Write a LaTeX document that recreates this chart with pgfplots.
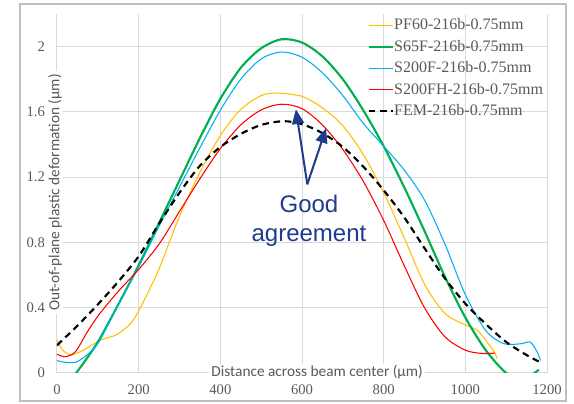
\documentclass[border=0pt]{standalone}
\usepackage{pgfplots}
\pgfplotsset{compat=1.18}
\usepackage{fontspec}
\setmainfont{Liberation Serif}
\newfontfamily\labelfont{Carlito}
\newfontfamily\annfont{Liberation Sans}
\usetikzlibrary{arrows.meta}
\definecolor{cYel}{HTML}{FFC000}
\definecolor{cGrn}{HTML}{00B050}
\definecolor{cBlu}{HTML}{00B0F0}
\definecolor{cRed}{HTML}{FF0000}
\definecolor{cTxt}{HTML}{595959}
\definecolor{cBorder}{HTML}{BFBFBF}
\definecolor{cAnn}{HTML}{1F3C8C}
\begin{document}
\begin{tikzpicture}
\useasboundingbox (-42.75pt,-22.5pt) rectangle (387.75pt,279.75pt);
\draw[line width=1.5pt, color=cBorder] (-27.75pt,-21pt) rectangle (381.75pt,276.75pt);
\begin{axis}[
  at={(0,0)}, anchor=south west,
  scale only axis, width=367.5pt, height=269.25pt,
  xmin=0, xmax=1200, ymin=0, ymax=2.2,
  xtick={0,200,400,600,800,1000,1200},
  ytick={0,0.4,0.8,1.2,1.6,2},
  /pgf/number format/1000 sep={},
  /pgf/number format/assume math mode=true,
  tick label style={font=\fontsize{11}{13}\selectfont, text=cTxt},
  yticklabel style={xshift=-5.5pt},
  xticklabel style={yshift=-5pt},
  major tick length=0pt,
  grid=major,
  grid style={draw=gray!30, line width=0.75pt},
  axis line style={draw=none},
  clip mode=individual,
  legend cell align=left,
  legend style={at={(rel axis cs:0.633,0.998)}, anchor=north west, draw=none, fill=none,
    inner sep=0pt, row sep=0.6pt, text=cTxt,
    font=\fontsize{12}{14}\selectfont,
    nodes={text height=9pt, text depth=2.5pt, inner ysep=2pt, inner xsep=0.5pt}},
  legend image code/.code={\draw[#1] (0pt,0pt) -- (18pt,0pt);},
]
\addplot[cYel, line width=0.8pt, smooth, legend image post style={line width=1.1pt}] coordinates {
(0,0.20) (14,0.14) (35,0.112) (65,0.14) (105,0.20) (146,0.235) (179,0.30) (200,0.38) (228,0.52) (252,0.65) (300,0.96) (350,1.23) (400,1.455) (450,1.615) (500,1.70) (540,1.715) (600,1.695) (650,1.625) (700,1.515) (750,1.34) (800,1.105) (850,0.83) (900,0.545) (950,0.365) (1000,0.295) (1030,0.26) (1053,0.189) (1069,0.138) (1078,0.088)};
\addlegendentry{PF60-216b-0.75mm}
\addplot[cGrn, line width=1.6pt, smooth] coordinates {
(0,-0.15) (50,0.01) (100,0.19) (150,0.42) (200,0.66) (250,0.92) (300,1.18) (350,1.44) (400,1.68) (450,1.87) (500,1.99) (550,2.045) (600,2.025) (650,1.94) (700,1.80) (750,1.61) (800,1.39) (850,1.14) (900,0.87) (950,0.59) (1000,0.34) (1050,0.14) (1100,0.0) (1140,-0.04) (1180,0.02)};
\addlegendentry{S65F-216b-0.75mm}
\addplot[cBlu, line width=0.8pt, smooth, legend image post style={line width=1.1pt}] coordinates {
(0,0.076) (25,0.064) (50,0.07) (80,0.125) (105,0.20) (150,0.42) (200,0.65) (250,0.90) (300,1.14) (350,1.38) (400,1.61) (450,1.80) (500,1.925) (550,1.967) (600,1.935) (650,1.84) (700,1.70) (750,1.53) (800,1.39) (850,1.245) (900,1.06) (950,0.79) (1000,0.48) (1050,0.26) (1094,0.18) (1135,0.179) (1159,0.189) (1176,0.128) (1184,0.077)};
\addlegendentry{S200F-216b-0.75mm}
\addplot[cRed, line width=0.8pt, smooth, legend image post style={line width=1.1pt}] coordinates {
(0,0.115) (20,0.10) (45,0.13) (75,0.255) (105,0.365) (150,0.50) (200,0.635) (250,0.79) (300,0.99) (350,1.19) (400,1.375) (450,1.52) (500,1.612) (550,1.647) (600,1.62) (650,1.52) (700,1.37) (750,1.175) (800,0.935) (850,0.66) (900,0.40) (950,0.222) (1000,0.14) (1040,0.12) (1073,0.122)};
\addlegendentry{S200FH-216b-0.75mm}
\addplot[black, line width=1.6pt, dash pattern=on 5pt off 3.5pt, smooth] coordinates {
(0,0.17) (50,0.29) (100,0.42) (150,0.56) (200,0.715) (250,0.915) (300,1.105) (350,1.27) (400,1.385) (450,1.465) (500,1.52) (554,1.543) (600,1.525) (650,1.47) (700,1.385) (750,1.265) (800,1.12) (850,0.955) (900,0.765) (950,0.58) (1000,0.425) (1050,0.30) (1100,0.19) (1150,0.11) (1188,0.06)};
\addlegendentry{FEM-216b-0.75mm}
\draw[cAnn, line width=1.5pt, -{Triangle[length=11pt,width=9pt]}] (axis cs:613,1.156) -- (axis cs:585,1.616);
\draw[cAnn, line width=1.5pt, -{Triangle[length=11pt,width=9pt]}] (axis cs:613,1.156) -- (axis cs:659,1.50);
\node[anchor=base, text=cAnn, font=\annfont\fontsize{18}{20}\selectfont, inner sep=0pt] at (axis cs:617,0.983) {Good};
\node[anchor=base, text=cAnn, font=\annfont\fontsize{18}{20}\selectfont, inner sep=0pt] at (axis cs:617,0.805) {agreement};
\node[fill=white, text=cTxt, font=\labelfont\fontsize{11.5}{13}\selectfont, inner xsep=2pt, inner ysep=1pt] at (axis cs:637,0.005) {Distance across beam center (µm)};
\node[fill=white, text=cTxt, font=\labelfont\fontsize{11.5}{13}\selectfont, rotate=90, inner xsep=2pt, inner ysep=1pt] at (axis cs:-5,1.106) {Out-of-plane plastic deformation (µm)};
\end{axis}
\end{tikzpicture}
\end{document}
